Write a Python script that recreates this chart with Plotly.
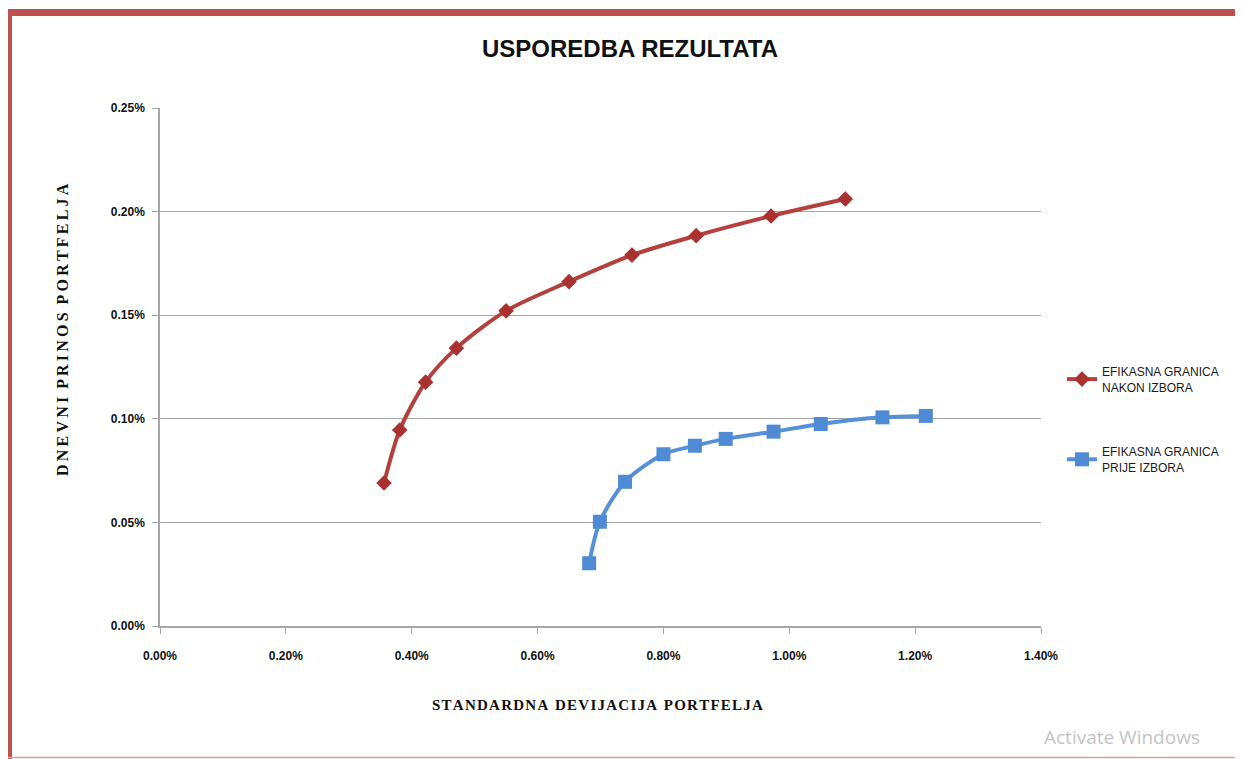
import plotly.graph_objects as go

# Data (values in percent)
nakon_sd = [0.356, 0.381, 0.422, 0.471, 0.550, 0.650, 0.750, 0.852, 0.971, 1.089]
nakon_ret = [0.0690, 0.0946, 0.1177, 0.1341, 0.1521, 0.1662, 0.1790, 0.1884, 0.1979, 0.2061]
prije_sd = [0.682, 0.699, 0.739, 0.800, 0.850, 0.899, 0.975, 1.050, 1.148, 1.217]
prije_ret = [0.0303, 0.0503, 0.0696, 0.0829, 0.0870, 0.0903, 0.0938, 0.0975, 0.1007, 0.1014]
series_names = ["EFIKASNA GRANICA<br>NAKON IZBORA", "EFIKASNA GRANICA<br>PRIJE IZBORA"]
x_ticks = [0.0, 0.2, 0.4, 0.6, 0.8, 1.0, 1.2, 1.4]
y_ticks = [0.0, 0.05, 0.10, 0.15, 0.20, 0.25]

OFF = 8  # page body margin
W, H = 1243 - OFF, 759 - OFF
L, T = 160 - OFF, 108 - OFF
R = W - (1041 - OFF)
B = H - (626 - OFF)
PW, PH = W - L - R, H - T - B

def px(x):
    return (x - OFF - L) / PW

def py(y):
    return (T + PH - (y - OFF)) / PH

def spaced(s, sep):
    return "  ".join(sep.join(list(w)) for w in s.split())

fig = go.Figure()
fig.add_trace(go.Scatter(
    x=nakon_sd, y=nakon_ret, name=series_names[0], mode="lines+markers",
    line=dict(color="#B3403C", width=4, shape="spline", smoothing=0.8),
    marker=dict(symbol="diamond", size=12, color="#A93230"),
    legendgroup="a",
))
fig.add_trace(go.Scatter(
    x=prije_sd, y=prije_ret, name=series_names[1], mode="lines+markers",
    line=dict(color="#5590D8", width=4, shape="spline", smoothing=0.8),
    marker=dict(symbol="square", size=14, color="#4F8AD5"),
    legendgroup="b",
))

tickfont = dict(family="Liberation Sans", size=12, color="#111111", weight="bold")
fig.update_xaxes(
    range=[0, 1.4], tickvals=x_ticks, ticktext=[f"{v:.2f}%" for v in x_ticks],
    showgrid=False, showline=True, linecolor="#A6A6A6", linewidth=1.5,
    ticks="outside", ticklen=6, tickcolor="#A6A6A6", tickfont=tickfont,
    ticklabelstandoff=12,
    zeroline=False, fixedrange=True,
)
fig.update_yaxes(
    range=[0, 0.25], tickvals=y_ticks, ticktext=[f"{v:.2f}%" for v in y_ticks],
    showgrid=True, gridcolor="#A6A6A6", gridwidth=1.2,
    showline=True, linecolor="#A6A6A6", linewidth=1.5,
    ticks="outside", ticklen=6, tickcolor="#A6A6A6", tickfont=tickfont,
    ticklabelstandoff=5,
    zeroline=False, fixedrange=True,
)

fig.update_layout(
    width=W, height=H,
    margin=dict(l=L, r=R, t=T, b=B, autoexpand=False),
    paper_bgcolor="white", plot_bgcolor="white",
    showlegend=True,
    legend=dict(
        x=px(1062), y=py(357), xanchor="left", yanchor="top",
        font=dict(family="Liberation Sans", size=12, color="#1a1a1a"),
        tracegroupgap=46, itemwidth=30, bgcolor="rgba(0,0,0,0)",
    ),
    annotations=[
        dict(text="<b>USPOREDBA REZULTATA</b>", x=px(630), y=py(48), xref="paper", yref="paper",
             showarrow=False, xanchor="center", yanchor="middle",
             font=dict(family="Liberation Sans", size=24, color="#111111")),
        dict(text="<b>" + spaced("DNEVNI PRINOS PORTFELJA", "\u2009") + "</b>",
             x=px(62), y=py(330), xref="paper", yref="paper", textangle=-90,
             showarrow=False, xanchor="center", yanchor="middle",
             font=dict(family="Liberation Serif", size=16, color="#111111")),
        dict(text="<b>" + spaced("STANDARDNA DEVIJACIJA PORTFELJA", "\u200a") + "</b>",
             x=px(597), y=py(705),
             xref="paper", yref="paper", showarrow=False, xanchor="center", yanchor="middle",
             font=dict(family="Liberation Serif", size=15, color="#111111")),
        dict(text="Activate Windows", x=px(1042), y=py(737), xref="paper", yref="paper",
             showarrow=False, xanchor="left", yanchor="middle",
             font=dict(family="Open Sans", size=19, color="#C4C4C4")),
    ],
    shapes=[
        dict(type="rect", xref="paper", yref="paper", x0=px(6), x1=px(12), y0=py(9), y1=py(760),
             fillcolor="#C0504D", line=dict(width=0), layer="above"),
        dict(type="rect", xref="paper", yref="paper", x0=px(6), x1=px(1244), y0=py(9), y1=py(16),
             fillcolor="#C0504D", line=dict(width=0), layer="above"),
        dict(type="line", xref="paper", yref="paper", x0=px(6), x1=px(1244), y0=py(757.5), y1=py(757.5),
             line=dict(color="#E39A9A", width=1.5), layer="above"),
    ],
)

fig.write_html("out.html")
